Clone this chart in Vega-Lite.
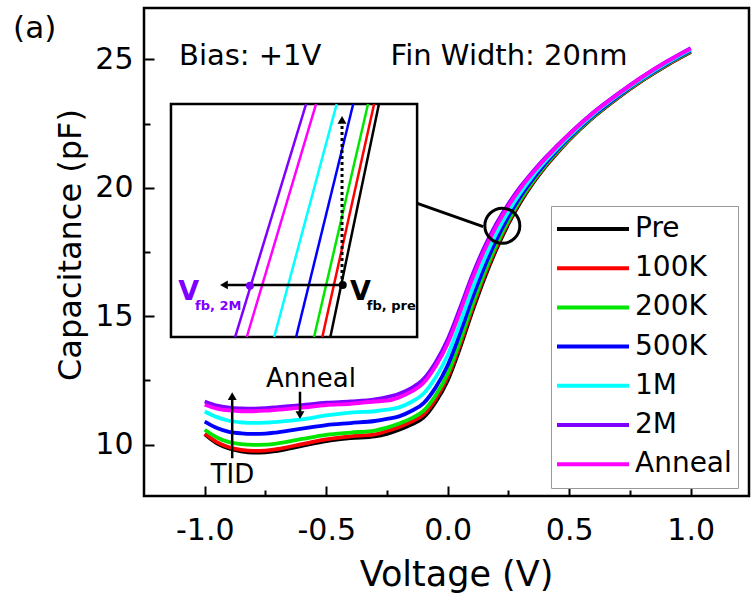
{
  "$schema": "https://vega.github.io/schema/vega-lite/v6.json",
  "width": 605,
  "height": 488,
  "autosize": {"type": "none"},
  "padding": {"left": 144, "top": 8, "right": 2, "bottom": 98},
  "background": "white",
  "config": {
    "view": {"stroke": "#000", "strokeWidth": 2.5},
    "font": "DejaVu Sans",
    "text": {"font": "DejaVu Sans", "color": "#000"}
  },
  "datasets": {
    "curves": [
      {"V": -1.0, "C": 10.40, "s": "Pre"}, {"V": -0.95, "C": 10.05, "s": "Pre"}, {"V": -0.9, "C": 9.85, "s": "Pre"}, {"V": -0.85, "C": 9.74, "s": "Pre"}, {"V": -0.8, "C": 9.69, "s": "Pre"}, {"V": -0.75, "C": 9.70, "s": "Pre"}, {"V": -0.7, "C": 9.76, "s": "Pre"}, {"V": -0.6, "C": 9.95, "s": "Pre"}, {"V": -0.5, "C": 10.14, "s": "Pre"}, {"V": -0.4, "C": 10.25, "s": "Pre"}, {"V": -0.3, "C": 10.32, "s": "Pre"}, {"V": -0.25, "C": 10.42, "s": "Pre"}, {"V": -0.2, "C": 10.58, "s": "Pre"}, {"V": -0.15, "C": 10.78, "s": "Pre"}, {"V": -0.1, "C": 11.05, "s": "Pre"}, {"V": -0.05, "C": 11.65, "s": "Pre"}, {"V": 0.0, "C": 12.50, "s": "Pre"}, {"V": 0.05, "C": 13.75, "s": "Pre"}, {"V": 0.1, "C": 15.15, "s": "Pre"}, {"V": 0.15, "C": 16.45, "s": "Pre"}, {"V": 0.2, "C": 17.60, "s": "Pre"}, {"V": 0.25, "C": 18.60, "s": "Pre"}, {"V": 0.3, "C": 19.45, "s": "Pre"}, {"V": 0.35, "C": 20.17, "s": "Pre"}, {"V": 0.4, "C": 20.80, "s": "Pre"}, {"V": 0.45, "C": 21.35, "s": "Pre"}, {"V": 0.5, "C": 21.86, "s": "Pre"}, {"V": 0.6, "C": 22.75, "s": "Pre"}, {"V": 0.7, "C": 23.50, "s": "Pre"}, {"V": 0.8, "C": 24.17, "s": "Pre"}, {"V": 0.9, "C": 24.76, "s": "Pre"}, {"V": 1.0, "C": 25.28, "s": "Pre"},

      {"V": -1.0, "C": 10.42, "s": "100K"}, {"V": -0.95, "C": 10.10, "s": "100K"}, {"V": -0.9, "C": 9.90, "s": "100K"}, {"V": -0.85, "C": 9.80, "s": "100K"}, {"V": -0.8, "C": 9.76, "s": "100K"}, {"V": -0.75, "C": 9.77, "s": "100K"}, {"V": -0.7, "C": 9.83, "s": "100K"}, {"V": -0.6, "C": 10.02, "s": "100K"}, {"V": -0.5, "C": 10.20, "s": "100K"}, {"V": -0.4, "C": 10.32, "s": "100K"}, {"V": -0.3, "C": 10.40, "s": "100K"}, {"V": -0.25, "C": 10.53, "s": "100K"}, {"V": -0.2, "C": 10.69, "s": "100K"}, {"V": -0.15, "C": 10.89, "s": "100K"}, {"V": -0.1, "C": 11.17, "s": "100K"}, {"V": -0.05, "C": 11.77, "s": "100K"}, {"V": 0.0, "C": 12.63, "s": "100K"}, {"V": 0.05, "C": 13.87, "s": "100K"}, {"V": 0.1, "C": 15.26, "s": "100K"}, {"V": 0.15, "C": 16.55, "s": "100K"}, {"V": 0.2, "C": 17.68, "s": "100K"}, {"V": 0.25, "C": 18.66, "s": "100K"}, {"V": 0.3, "C": 19.50, "s": "100K"}, {"V": 0.35, "C": 20.21, "s": "100K"}, {"V": 0.4, "C": 20.83, "s": "100K"}, {"V": 0.45, "C": 21.37, "s": "100K"}, {"V": 0.5, "C": 21.88, "s": "100K"}, {"V": 0.6, "C": 22.77, "s": "100K"}, {"V": 0.7, "C": 23.51, "s": "100K"}, {"V": 0.8, "C": 24.18, "s": "100K"}, {"V": 0.9, "C": 24.77, "s": "100K"}, {"V": 1.0, "C": 25.29, "s": "100K"},

      {"V": -1.0, "C": 10.58, "s": "200K"}, {"V": -0.95, "C": 10.28, "s": "200K"}, {"V": -0.9, "C": 10.10, "s": "200K"}, {"V": -0.85, "C": 10.02, "s": "200K"}, {"V": -0.8, "C": 9.99, "s": "200K"}, {"V": -0.75, "C": 10.00, "s": "200K"}, {"V": -0.7, "C": 10.05, "s": "200K"}, {"V": -0.6, "C": 10.22, "s": "200K"}, {"V": -0.5, "C": 10.38, "s": "200K"}, {"V": -0.4, "C": 10.47, "s": "200K"}, {"V": -0.3, "C": 10.55, "s": "200K"}, {"V": -0.25, "C": 10.66, "s": "200K"}, {"V": -0.2, "C": 10.82, "s": "200K"}, {"V": -0.15, "C": 11.02, "s": "200K"}, {"V": -0.1, "C": 11.31, "s": "200K"}, {"V": -0.05, "C": 11.91, "s": "200K"}, {"V": 0.0, "C": 12.77, "s": "200K"}, {"V": 0.05, "C": 14.01, "s": "200K"}, {"V": 0.1, "C": 15.39, "s": "200K"}, {"V": 0.15, "C": 16.66, "s": "200K"}, {"V": 0.2, "C": 17.77, "s": "200K"}, {"V": 0.25, "C": 18.73, "s": "200K"}, {"V": 0.3, "C": 19.55, "s": "200K"}, {"V": 0.35, "C": 20.25, "s": "200K"}, {"V": 0.4, "C": 20.86, "s": "200K"}, {"V": 0.45, "C": 21.40, "s": "200K"}, {"V": 0.5, "C": 21.90, "s": "200K"}, {"V": 0.6, "C": 22.78, "s": "200K"}, {"V": 0.7, "C": 23.53, "s": "200K"}, {"V": 0.8, "C": 24.20, "s": "200K"}, {"V": 0.9, "C": 24.79, "s": "200K"}, {"V": 1.0, "C": 25.31, "s": "200K"},

      {"V": -1.0, "C": 10.90, "s": "500K"}, {"V": -0.95, "C": 10.65, "s": "500K"}, {"V": -0.9, "C": 10.50, "s": "500K"}, {"V": -0.85, "C": 10.44, "s": "500K"}, {"V": -0.8, "C": 10.42, "s": "500K"}, {"V": -0.75, "C": 10.43, "s": "500K"}, {"V": -0.7, "C": 10.48, "s": "500K"}, {"V": -0.6, "C": 10.62, "s": "500K"}, {"V": -0.5, "C": 10.76, "s": "500K"}, {"V": -0.4, "C": 10.84, "s": "500K"}, {"V": -0.3, "C": 10.92, "s": "500K"}, {"V": -0.25, "C": 11.00, "s": "500K"}, {"V": -0.2, "C": 11.10, "s": "500K"}, {"V": -0.15, "C": 11.31, "s": "500K"}, {"V": -0.1, "C": 11.61, "s": "500K"}, {"V": -0.05, "C": 12.22, "s": "500K"}, {"V": 0.0, "C": 13.09, "s": "500K"}, {"V": 0.05, "C": 14.32, "s": "500K"}, {"V": 0.1, "C": 15.68, "s": "500K"}, {"V": 0.15, "C": 16.90, "s": "500K"}, {"V": 0.2, "C": 17.97, "s": "500K"}, {"V": 0.25, "C": 18.89, "s": "500K"}, {"V": 0.3, "C": 19.67, "s": "500K"}, {"V": 0.35, "C": 20.34, "s": "500K"}, {"V": 0.4, "C": 20.93, "s": "500K"}, {"V": 0.45, "C": 21.46, "s": "500K"}, {"V": 0.5, "C": 21.95, "s": "500K"}, {"V": 0.6, "C": 22.82, "s": "500K"}, {"V": 0.7, "C": 23.56, "s": "500K"}, {"V": 0.8, "C": 24.23, "s": "500K"}, {"V": 0.9, "C": 24.82, "s": "500K"}, {"V": 1.0, "C": 25.34, "s": "500K"},

      {"V": -1.0, "C": 11.29, "s": "1M"}, {"V": -0.95, "C": 11.07, "s": "1M"}, {"V": -0.9, "C": 10.93, "s": "1M"}, {"V": -0.85, "C": 10.87, "s": "1M"}, {"V": -0.8, "C": 10.85, "s": "1M"}, {"V": -0.75, "C": 10.86, "s": "1M"}, {"V": -0.7, "C": 10.89, "s": "1M"}, {"V": -0.6, "C": 10.98, "s": "1M"}, {"V": -0.5, "C": 11.14, "s": "1M"}, {"V": -0.4, "C": 11.25, "s": "1M"}, {"V": -0.3, "C": 11.30, "s": "1M"}, {"V": -0.25, "C": 11.36, "s": "1M"}, {"V": -0.2, "C": 11.45, "s": "1M"}, {"V": -0.15, "C": 11.66, "s": "1M"}, {"V": -0.1, "C": 11.98, "s": "1M"}, {"V": -0.05, "C": 12.61, "s": "1M"}, {"V": 0.0, "C": 13.49, "s": "1M"}, {"V": 0.05, "C": 14.71, "s": "1M"}, {"V": 0.1, "C": 16.03, "s": "1M"}, {"V": 0.15, "C": 17.21, "s": "1M"}, {"V": 0.2, "C": 18.22, "s": "1M"}, {"V": 0.25, "C": 19.08, "s": "1M"}, {"V": 0.3, "C": 19.82, "s": "1M"}, {"V": 0.35, "C": 20.46, "s": "1M"}, {"V": 0.4, "C": 21.02, "s": "1M"}, {"V": 0.45, "C": 21.53, "s": "1M"}, {"V": 0.5, "C": 22.01, "s": "1M"}, {"V": 0.6, "C": 22.87, "s": "1M"}, {"V": 0.7, "C": 23.60, "s": "1M"}, {"V": 0.8, "C": 24.26, "s": "1M"}, {"V": 0.9, "C": 24.85, "s": "1M"}, {"V": 1.0, "C": 25.38, "s": "1M"},

      {"V": -1.0, "C": 11.68, "s": "2M"}, {"V": -0.95, "C": 11.52, "s": "2M"}, {"V": -0.9, "C": 11.44, "s": "2M"}, {"V": -0.85, "C": 11.41, "s": "2M"}, {"V": -0.8, "C": 11.40, "s": "2M"}, {"V": -0.75, "C": 11.42, "s": "2M"}, {"V": -0.7, "C": 11.46, "s": "2M"}, {"V": -0.6, "C": 11.54, "s": "2M"}, {"V": -0.5, "C": 11.63, "s": "2M"}, {"V": -0.4, "C": 11.68, "s": "2M"}, {"V": -0.3, "C": 11.76, "s": "2M"}, {"V": -0.25, "C": 11.85, "s": "2M"}, {"V": -0.2, "C": 11.98, "s": "2M"}, {"V": -0.15, "C": 12.20, "s": "2M"}, {"V": -0.1, "C": 12.55, "s": "2M"}, {"V": -0.05, "C": 13.20, "s": "2M"}, {"V": 0.0, "C": 14.10, "s": "2M"}, {"V": 0.05, "C": 15.30, "s": "2M"}, {"V": 0.1, "C": 16.57, "s": "2M"}, {"V": 0.15, "C": 17.67, "s": "2M"}, {"V": 0.2, "C": 18.60, "s": "2M"}, {"V": 0.25, "C": 19.38, "s": "2M"}, {"V": 0.3, "C": 20.05, "s": "2M"}, {"V": 0.35, "C": 20.63, "s": "2M"}, {"V": 0.4, "C": 21.16, "s": "2M"}, {"V": 0.45, "C": 21.64, "s": "2M"}, {"V": 0.5, "C": 22.10, "s": "2M"}, {"V": 0.6, "C": 22.94, "s": "2M"}, {"V": 0.7, "C": 23.66, "s": "2M"}, {"V": 0.8, "C": 24.32, "s": "2M"}, {"V": 0.9, "C": 24.91, "s": "2M"}, {"V": 1.0, "C": 25.44, "s": "2M"},

      {"V": -1.0, "C": 11.55, "s": "Anneal"}, {"V": -0.95, "C": 11.40, "s": "Anneal"}, {"V": -0.9, "C": 11.33, "s": "Anneal"}, {"V": -0.85, "C": 11.30, "s": "Anneal"}, {"V": -0.8, "C": 11.30, "s": "Anneal"}, {"V": -0.75, "C": 11.32, "s": "Anneal"}, {"V": -0.7, "C": 11.36, "s": "Anneal"}, {"V": -0.6, "C": 11.44, "s": "Anneal"}, {"V": -0.5, "C": 11.54, "s": "Anneal"}, {"V": -0.4, "C": 11.59, "s": "Anneal"}, {"V": -0.3, "C": 11.68, "s": "Anneal"}, {"V": -0.25, "C": 11.71, "s": "Anneal"}, {"V": -0.2, "C": 11.84, "s": "Anneal"}, {"V": -0.15, "C": 12.06, "s": "Anneal"}, {"V": -0.1, "C": 12.40, "s": "Anneal"}, {"V": -0.05, "C": 13.05, "s": "Anneal"}, {"V": 0.0, "C": 13.94, "s": "Anneal"}, {"V": 0.05, "C": 15.15, "s": "Anneal"}, {"V": 0.1, "C": 16.43, "s": "Anneal"}, {"V": 0.15, "C": 17.55, "s": "Anneal"}, {"V": 0.2, "C": 18.50, "s": "Anneal"}, {"V": 0.25, "C": 19.30, "s": "Anneal"}, {"V": 0.3, "C": 19.99, "s": "Anneal"}, {"V": 0.35, "C": 20.58, "s": "Anneal"}, {"V": 0.4, "C": 21.12, "s": "Anneal"}, {"V": 0.45, "C": 21.61, "s": "Anneal"}, {"V": 0.5, "C": 22.08, "s": "Anneal"}, {"V": 0.6, "C": 22.92, "s": "Anneal"}, {"V": 0.7, "C": 23.64, "s": "Anneal"}, {"V": 0.8, "C": 24.31, "s": "Anneal"}, {"V": 0.9, "C": 24.90, "s": "Anneal"}, {"V": 1.0, "C": 25.42, "s": "Anneal"}
    ],
    "inset": [
      {"V": -0.283, "C": 23.26, "s": "Pre"}, {"V": -0.483, "C": 14.19, "s": "Pre"},
      {"V": -0.303, "C": 23.26, "s": "100K"}, {"V": -0.516, "C": 14.19, "s": "100K"},
      {"V": -0.328, "C": 23.26, "s": "200K"}, {"V": -0.550, "C": 14.19, "s": "200K"},
      {"V": -0.389, "C": 23.26, "s": "500K"}, {"V": -0.624, "C": 14.19, "s": "500K"},
      {"V": -0.457, "C": 23.26, "s": "1M"}, {"V": -0.714, "C": 14.19, "s": "1M"},
      {"V": -0.583, "C": 23.26, "s": "2M"}, {"V": -0.875, "C": 14.19, "s": "2M"},
      {"V": -0.542, "C": 23.26, "s": "Anneal"}, {"V": -0.827, "C": 14.19, "s": "Anneal"}
    ],
    "box": [{"V": -1.139, "V2": -0.126, "C": 14.19, "C2": 23.26}],
    "connector": [{"V": -0.128, "C": 19.40}, {"V": 0.146, "C": 18.49}],
    "ring": [{"V": 0.2248, "C": 18.52}],
    "arrows": [
      {"V": -0.432, "C": 16.22, "id": "shift"}, {"V": -0.915, "C": 16.22, "id": "shift"},
      {"V": -0.887, "C": 9.47, "id": "tid"}, {"V": -0.887, "C": 11.8, "id": "tid"},
      {"V": -0.608, "C": 12.06, "id": "anneal"}, {"V": -0.608, "C": 11.25, "id": "anneal"}
    ],
    "dotted": [{"V": -0.435, "C": 16.22}, {"V": -0.435, "C": 22.5}],
    "headsUp": [{"V": -0.435, "C": 22.64}, {"V": -0.887, "C": 11.89}],
    "headsDown": [{"V": -0.608, "C": 11.15}],
    "headsLeft": [{"V": -0.921, "C": 16.22}],
    "dots": [{"V": -0.432, "C": 16.22, "s": "Pre"}, {"V": -0.814, "C": 16.19, "s": "2M"}],
    "notes": [
      {"V": -1.106, "C": 24.78, "label": "Bias: +1V"},
      {"V": -0.235, "C": 24.78, "label": "Fin Width: 20nm"}
    ],
    "panel": [
      {"V": -1.789, "C": 25.83, "label": "(a)"}
    ],
    "notesCenter": [
      {"V": -0.563, "C": 12.24, "label": "Anneal"},
      {"V": -0.886, "C": 8.51, "label": "TID"}
    ],
    "vfb": [
      {"V": -1.109, "C": 15.63, "s": "2M", "label": "V"},
      {"V": -0.402, "C": 15.63, "s": "Pre", "label": "V"}
    ],
    "vfbSub": [
      {"V": -1.040, "C": 15.24, "s": "2M", "label": "fb, 2M"},
      {"V": -0.333, "C": 15.24, "s": "Pre", "label": "fb, pre"}
    ]
  },
  "layer": [
    {
      "data": {"name": "curves"},
      "mark": {"type": "line", "strokeWidth": 3.8, "interpolate": "monotone"},
      "encoding": {
        "x": {
          "field": "V", "type": "quantitative", "title": "Voltage (V)",
          "scale": {"domain": [-1.25, 1.24], "nice": false, "zero": false},
          "axis": {
            "values": [-1, -0.75, -0.5, -0.25, 0, 0.25, 0.5, 0.75, 1],
            "tickSize": {"condition": {"test": "abs(datum.value*2 - round(datum.value*2)) < 0.001", "value": -10}, "value": -6},
            "labelExpr": "abs(datum.value*2 - round(datum.value*2)) < 0.001 ? replace(format(datum.value, '.1f'), '\u2212', '-') : ''",
            "labelPadding": 29, "labelFontSize": 30, "labelFont": "DejaVu Sans", "labelColor": "#000",
            "labelFlush": false, "labelOverlap": false,
            "tickColor": "#000", "tickWidth": 2, "domain": false, "grid": false,
            "titleFont": "DejaVu Sans", "titleFontSize": 35, "titleFontWeight": "normal", "titleColor": "#000",
            "titleX": 312, "titleY": 89, "titleBaseline": "alphabetic", "titleAlign": "center", "titleAnchor": null
          }
        },
        "y": {
          "field": "C", "type": "quantitative", "title": "Capacitance (pF)",
          "scale": {"domain": [8, 27], "nice": false, "zero": false},
          "axis": {
            "values": [10, 12.5, 15, 17.5, 20, 22.5, 25],
            "tickSize": {"condition": {"test": "datum.value % 5 == 0", "value": -10}, "value": -6},
            "labelExpr": "datum.value % 5 == 0 ? format(datum.value, 'd') : ''",
            "labelPadding": 21, "labelFontSize": 30, "labelFont": "DejaVu Sans", "labelColor": "#000",
            "labelOverlap": false, "labelFlush": false,
            "tickColor": "#000", "tickWidth": 2, "domain": false, "grid": false,
            "titleFont": "DejaVu Sans", "titleFontSize": 32, "titleFontWeight": "normal", "titleColor": "#000",
            "titleX": -64, "titleY": 236.5, "titleAngle": -90, "titleBaseline": "alphabetic", "titleAlign": "center", "titleAnchor": null
          }
        },
        "color": {
          "field": "s", "type": "nominal",
          "scale": {
            "domain": ["Pre", "100K", "200K", "500K", "1M", "2M", "Anneal"],
            "range": ["#000000", "#ff0000", "#00e600", "#0000ff", "#00ffff", "#7f00ff", "#ff00ff"]
          },
          "legend": {
            "orient": "none", "legendX": 407, "legendY": 198, "title": null, "direction": "vertical",
            "symbolType": "stroke", "symbolSize": 5329, "symbolStrokeWidth": 4, "clipHeight": 34,
            "symbolOffset": -3,
            "rowPadding": 5.2, "labelFontSize": 28, "labelFont": "DejaVu Sans", "labelColor": "#000",
            "labelOffset": 4, "padding": 6, "strokeColor": "#999999", "fillColor": "#ffffff", "symbolOpacity": 1
          }
        }
      }
    },
    {
      "data": {"name": "box"},
      "mark": {"type": "rect", "fill": "#ffffff", "stroke": "#000", "strokeWidth": 2.5},
      "encoding": {
        "x": {"field": "V", "type": "quantitative", "title": "Voltage (V)"},
        "x2": {"field": "V2"},
        "y": {"field": "C", "type": "quantitative", "title": "Capacitance (pF)"},
        "y2": {"field": "C2"}
      }
    },
    {
      "data": {"name": "inset"},
      "mark": {"type": "line", "strokeWidth": 2.5},
      "encoding": {
        "x": {"field": "V", "type": "quantitative", "title": "Voltage (V)"},
        "y": {"field": "C", "type": "quantitative", "title": "Capacitance (pF)"},
        "color": {"field": "s", "type": "nominal"}
      }
    },
    {
      "data": {"name": "connector"},
      "mark": {"type": "line", "strokeWidth": 3, "color": "#000"},
      "encoding": {
        "x": {"field": "V", "type": "quantitative", "title": "Voltage (V)"},
        "y": {"field": "C", "type": "quantitative", "title": "Capacitance (pF)"}
      }
    },
    {
      "data": {"name": "ring"},
      "mark": {"type": "point", "shape": "circle", "filled": false, "size": 1225, "color": "#000", "strokeWidth": 3, "opacity": 1},
      "encoding": {
        "x": {"field": "V", "type": "quantitative", "title": "Voltage (V)"},
        "y": {"field": "C", "type": "quantitative", "title": "Capacitance (pF)"}
      }
    },
    {
      "data": {"name": "arrows"},
      "mark": {"type": "line", "strokeWidth": 2.5, "color": "#000"},
      "encoding": {
        "x": {"field": "V", "type": "quantitative", "title": "Voltage (V)"},
        "y": {"field": "C", "type": "quantitative", "title": "Capacitance (pF)"},
        "detail": {"field": "id", "type": "nominal"}
      }
    },
    {
      "data": {"name": "dotted"},
      "mark": {"type": "line", "strokeWidth": 3, "color": "#000", "strokeDash": [3, 3]},
      "encoding": {
        "x": {"field": "V", "type": "quantitative", "title": "Voltage (V)"},
        "y": {"field": "C", "type": "quantitative", "title": "Capacitance (pF)"}
      }
    },
    {
      "data": {"name": "headsUp"},
      "mark": {"type": "point", "shape": "triangle-up", "filled": true, "size": 80, "color": "#000", "opacity": 1},
      "encoding": {
        "x": {"field": "V", "type": "quantitative", "title": "Voltage (V)"},
        "y": {"field": "C", "type": "quantitative", "title": "Capacitance (pF)"}
      }
    },
    {
      "data": {"name": "headsDown"},
      "mark": {"type": "point", "shape": "triangle-down", "filled": true, "size": 80, "color": "#000", "opacity": 1},
      "encoding": {
        "x": {"field": "V", "type": "quantitative", "title": "Voltage (V)"},
        "y": {"field": "C", "type": "quantitative", "title": "Capacitance (pF)"}
      }
    },
    {
      "data": {"name": "headsLeft"},
      "mark": {"type": "point", "shape": "triangle-left", "filled": true, "size": 80, "color": "#000", "opacity": 1},
      "encoding": {
        "x": {"field": "V", "type": "quantitative", "title": "Voltage (V)"},
        "y": {"field": "C", "type": "quantitative", "title": "Capacitance (pF)"}
      }
    },
    {
      "data": {"name": "dots"},
      "mark": {"type": "point", "shape": "circle", "filled": true, "size": 64, "opacity": 1},
      "encoding": {
        "x": {"field": "V", "type": "quantitative", "title": "Voltage (V)"},
        "y": {"field": "C", "type": "quantitative", "title": "Capacitance (pF)"},
        "color": {"field": "s", "type": "nominal"}
      }
    },
    {
      "data": {"name": "notes"},
      "mark": {"type": "text", "align": "left", "baseline": "alphabetic", "fontSize": 29, "font": "DejaVu Sans", "color": "#000"},
      "encoding": {
        "x": {"field": "V", "type": "quantitative", "title": "Voltage (V)"},
        "y": {"field": "C", "type": "quantitative", "title": "Capacitance (pF)"},
        "text": {"field": "label"}
      }
    },
    {
      "data": {"name": "panel"},
      "mark": {"type": "text", "align": "left", "baseline": "alphabetic", "fontSize": 31, "font": "DejaVu Sans", "color": "#000"},
      "encoding": {
        "x": {"field": "V", "type": "quantitative", "title": "Voltage (V)"},
        "y": {"field": "C", "type": "quantitative", "title": "Capacitance (pF)"},
        "text": {"field": "label"}
      }
    },
    {
      "data": {"name": "notesCenter"},
      "mark": {"type": "text", "align": "center", "baseline": "alphabetic", "fontSize": 26, "font": "DejaVu Sans", "color": "#000"},
      "encoding": {
        "x": {"field": "V", "type": "quantitative", "title": "Voltage (V)"},
        "y": {"field": "C", "type": "quantitative", "title": "Capacitance (pF)"},
        "text": {"field": "label"}
      }
    },
    {
      "data": {"name": "vfb"},
      "mark": {"type": "text", "align": "left", "baseline": "alphabetic", "fontSize": 27, "fontWeight": "bold", "font": "DejaVu Sans"},
      "encoding": {
        "x": {"field": "V", "type": "quantitative", "title": "Voltage (V)"},
        "y": {"field": "C", "type": "quantitative", "title": "Capacitance (pF)"},
        "text": {"field": "label"},
        "color": {"field": "s", "type": "nominal"}
      }
    },
    {
      "data": {"name": "vfbSub"},
      "mark": {"type": "text", "align": "left", "baseline": "alphabetic", "fontSize": 13, "fontWeight": "bold", "font": "DejaVu Sans"},
      "encoding": {
        "x": {"field": "V", "type": "quantitative", "title": "Voltage (V)"},
        "y": {"field": "C", "type": "quantitative", "title": "Capacitance (pF)"},
        "text": {"field": "label"},
        "color": {"field": "s", "type": "nominal"}
      }
    }
  ]
}
